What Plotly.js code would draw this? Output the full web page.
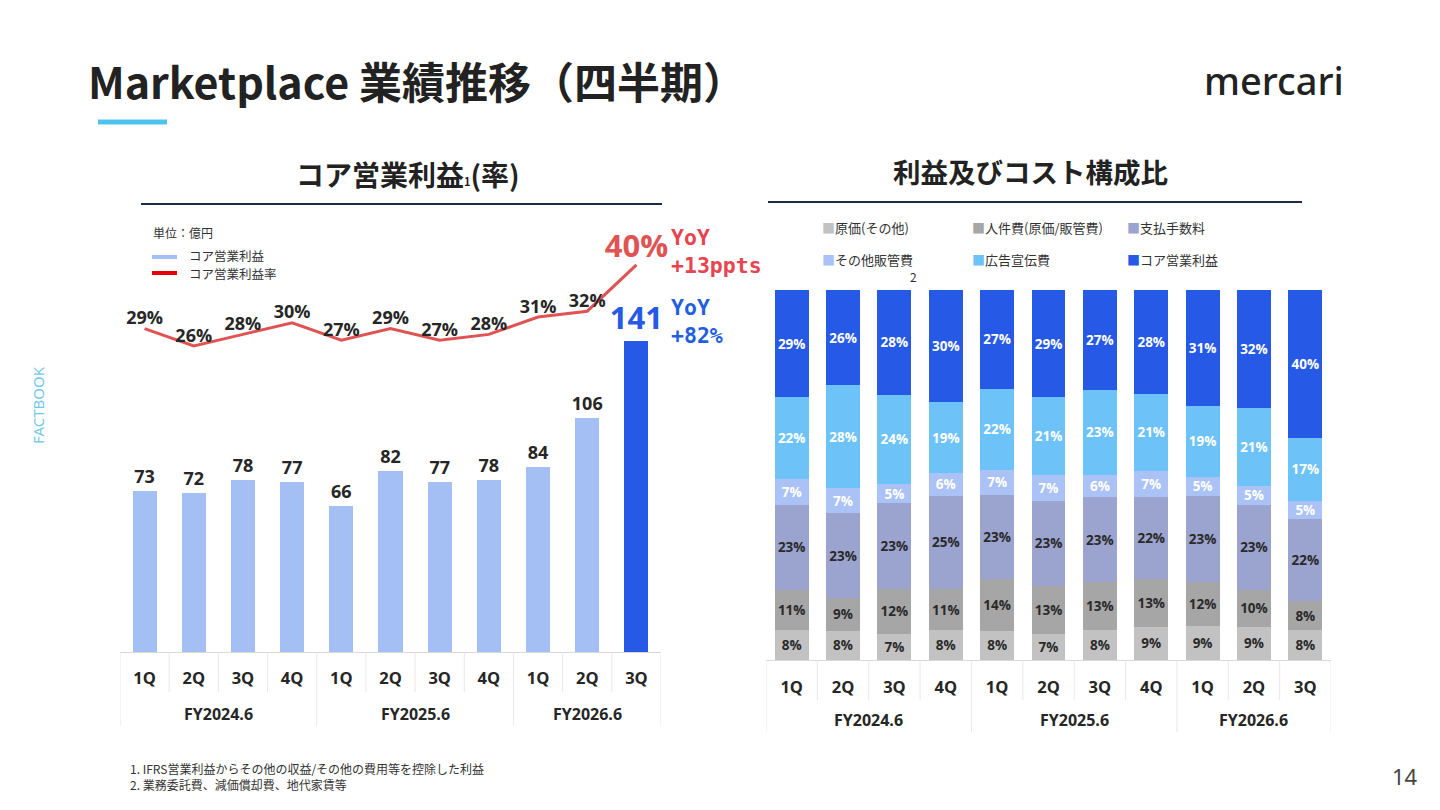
<!DOCTYPE html>
<html>
<head>
<meta charset="utf-8">
<script src="https://cdn.plot.ly/plotly-3.0.1.min.js"></script>
<style>
html,body{margin:0;padding:0;background:#fff;}
#chart{width:1440px;height:810px;}
</style>
</head>
<body>
<div id="chart"></div>
<script>
// ---- data ----
const quarters = ['1Q','2Q','3Q','4Q','1Q','2Q','3Q','4Q','1Q','2Q','3Q'];
const fiscalYears = ['FY2024.6','FY2024.6','FY2024.6','FY2024.6','FY2025.6','FY2025.6','FY2025.6','FY2025.6','FY2026.6','FY2026.6','FY2026.6'];
const coreProfit = [73, 72, 78, 77, 66, 82, 77, 78, 84, 106, 141];   // 億円
const coreMargin = [29, 26, 28, 30, 27, 29, 27, 28, 31, 32, 40];     // %

const seriesNames = ['原価(その他)', '人件費(原価/販管費)', '支払手数料', 'その他販管費', '広告宣伝費', 'コア営業利益'];
const costOther   = [8, 8, 7, 8, 8, 7, 8, 9, 9, 9, 8];
const personnel   = [11, 9, 12, 11, 14, 13, 13, 13, 12, 10, 8];
const fees        = [23, 23, 23, 25, 23, 23, 23, 22, 23, 23, 22];
const otherSGA    = [7, 7, 5, 6, 7, 7, 6, 7, 5, 5, 5];
const advertising = [22, 28, 24, 19, 22, 21, 23, 21, 19, 21, 17];
const coreShare   = [29, 26, 28, 30, 27, 29, 27, 28, 31, 32, 40];

// ---- styling ----
const W = 1440, H = 810;
const px = x => x / W;
const py = y => 1 - y / H;
const CJK = '"Noto Sans CJK JP", "Noto Sans", sans-serif';
const NUM = '"Open Sans", "Noto Sans", sans-serif';
const barLight = '#a4bff4';
const blue = '#2559e6';
const red = '#e05353';
const stackColors = ['#c2c2c2', '#a6a6a6', '#9ba3cf', '#aac2f6', '#6dc3f7', '#2559e6'];
const stackText = ['#2a2a2a', '#2a2a2a', '#2a2a2a', '#ffffff', '#ffffff', '#ffffff'];

// unique category keys; shown with the quarter only, groups labelled separately
const keys = quarters.map((q, i) => fiscalYears[i] + '|' + q);
const n = quarters.length;
const lastIdx = n - 1;

// group spans derived from fiscalYears
const groups = [];
fiscalYears.forEach((fy, i) => {
  const g = groups[groups.length - 1];
  if (g && g.name === fy) g.last = i; else groups.push({name: fy, first: i, last: i});
});

const traces = [];

// left: core profit bars
traces.push({
  type: 'bar', x: keys, y: coreProfit, xaxis: 'x', yaxis: 'y',
  width: 0.49,
  marker: {color: coreProfit.map((v, i) => i === lastIdx ? blue : barLight)},
  text: coreProfit.map(String), textposition: 'outside', constraintext: 'none', cliponaxis: false,
  textfont: {
    family: NUM,
    size: coreProfit.map((v, i) => i === lastIdx ? 31 : 18),
    color: coreProfit.map((v, i) => i === lastIdx ? blue : '#262626'),
    weight: 700
  },
  hoverinfo: 'skip', showlegend: false
});

// left: margin line
traces.push({
  type: 'scatter', mode: 'lines+text', x: keys, y: coreMargin, xaxis: 'x', yaxis: 'y3',
  line: {color: red, width: 3},
  text: coreMargin.map(v => v + '%'), textposition: 'top center', cliponaxis: false,
  textfont: {
    family: NUM,
    size: coreMargin.map((v, i) => i === lastIdx ? 31 : 18),
    color: coreMargin.map((v, i) => i === lastIdx ? red : '#262626'),
    weight: 700
  },
  hoverinfo: 'skip', showlegend: false
});

// right: cost structure (normalised to 100 per quarter)
const stack = [costOther, personnel, fees, otherSGA, advertising, coreShare];
const colSum = quarters.map((q, i) => stack.reduce((s, arr) => s + arr[i], 0));
stack.forEach((arr, k) => {
  traces.push({
    type: 'bar', name: seriesNames[k], x: keys, y: arr.map((v, i) => v / colSum[i] * 100),
    xaxis: 'x2', yaxis: 'y2', width: 0.66,
    marker: {color: stackColors[k]},
    text: arr.map(v => v + '%'), textposition: 'inside', insidetextanchor: 'middle',
    textangle: 0, constraintext: 'none',
    textfont: {family: NUM, size: 13.5, color: stackText[k], weight: 700},
    hoverinfo: 'skip', showlegend: false
  });
});

// ---- decorations ----
const ann = [];
const A = (o) => ann.push(Object.assign({xref: 'paper', yref: 'paper', showarrow: false}, o));

A({x: px(86), y: py(80), xanchor: 'left', yanchor: 'middle',
   text: 'Marketplace 業績推移（四半期）', font: {family: CJK, size: 43, color: '#222', weight: 700}});
A({x: px(1346), y: py(80), xanchor: 'right', yanchor: 'middle',
   text: 'mercari', font: {family: '"Noto Sans", sans-serif', size: 38, color: '#222', weight: 500}});
A({x: px(408), y: py(174), xanchor: 'center', yanchor: 'middle',
   text: 'コア営業利益<span style="font-size:11px">1</span>(率)', font: {family: CJK, size: 28, color: '#222', weight: 700}});
A({x: px(1030), y: py(171), xanchor: 'center', yanchor: 'middle',
   text: '利益及びコスト構成比', font: {family: CJK, size: 27.5, color: '#222', weight: 700}});

A({x: px(151), y: py(232), xanchor: 'left', yanchor: 'middle',
   text: '単位：億円', font: {family: CJK, size: 12, color: '#333'}});
A({x: px(187), y: py(256), xanchor: 'left', yanchor: 'middle',
   text: 'コア営業利益', font: {family: CJK, size: 12.5, color: '#333'}});
A({x: px(187), y: py(273), xanchor: 'left', yanchor: 'middle',
   text: 'コア営業利益率', font: {family: CJK, size: 12.5, color: '#333'}});

A({x: px(669), y: py(251), xanchor: 'left', yanchor: 'middle', align: 'left',
   text: 'YoY<br>+13ppts', font: {family: '"DejaVu Sans Mono", monospace', size: 21.5, color: '#e8434f', weight: 700}});
A({x: px(669), y: py(322), xanchor: 'left', yanchor: 'middle', align: 'left',
   text: 'YoY<br>+82%', font: {family: '"DejaVu Sans Mono", monospace', size: 21.5, color: '#1f5fe0', weight: 700}});

// right legend
const legPos = [[820, 228], [970, 228], [1125, 228], [820, 259], [970, 259], [1125, 259]];
seriesNames.forEach((name, k) => {
  A({x: px(legPos[k][0]), y: py(legPos[k][1]), xanchor: 'left', yanchor: 'middle',
     text: '<span style="color:' + stackColors[k] + '">■</span>' + name,
     font: {family: CJK, size: 13, color: '#333'}});
});
A({x: px(913), y: py(277), xanchor: 'center', yanchor: 'middle',
   text: '2', font: {family: CJK, size: 12, color: '#333'}});

A({x: px(128), y: py(776), xanchor: 'left', yanchor: 'middle', align: 'left',
   text: '1. IFRS営業利益からその他の収益/その他の費用等を控除した利益<br>2. 業務委託費、減価償却費、地代家賃等',
   font: {family: CJK, size: 12, color: '#333'}});
A({x: px(1420), y: py(776), xanchor: 'right', yanchor: 'middle',
   text: '14', font: {family: '"Noto Sans", sans-serif', size: 22, color: '#444'}});
A({x: px(38), y: py(405), xanchor: 'center', yanchor: 'middle', textangle: -90,
   text: 'FACTBOOK', font: {family: '"Noto Sans", sans-serif', size: 15, color: '#72c8e6'}});

const shapes = [
  {type: 'rect', xref: 'paper', yref: 'paper', x0: px(98), x1: px(167), y0: py(124.5), y1: py(119.5),
   fillcolor: '#4ec3f0', line: {width: 0}},
  {type: 'line', xref: 'paper', yref: 'paper', x0: px(141), x1: px(662), y0: py(204), y1: py(204),
   line: {color: '#1e2a4a', width: 2}},
  {type: 'line', xref: 'paper', yref: 'paper', x0: px(768), x1: px(1302), y0: py(202), y1: py(202),
   line: {color: '#1e2a4a', width: 2}},
  {type: 'line', xref: 'paper', yref: 'paper', x0: px(152), x1: px(177), y0: py(257), y1: py(257),
   line: {color: barLight, width: 4}},
  {type: 'line', xref: 'paper', yref: 'paper', x0: px(152), x1: px(177), y0: py(273), y1: py(273),
   line: {color: '#e8000b', width: 4}}
];

// category axis table: quarter labels, group labels and dividers
function addAxisTable(xref, axisY, qEnd, groupY, groupEnd) {
  // inner dividers between quarters
  for (let i = 0; i <= n; i++) {
    const b = i - 0.5;
    const isGroupEdge = groups.some(g => g.first - 0.5 === b) || b === n - 0.5;
    shapes.push({type: 'line', xref: xref, yref: 'paper', x0: b, x1: b,
      y0: py(axisY), y1: py(isGroupEdge ? groupEnd : qEnd),
      line: {color: '#e8e8e8', width: 1}});
  }
  groups.forEach(g => {
    A({xref: xref, x: (g.first + g.last) / 2, y: py(groupY), xanchor: 'center', yanchor: 'middle',
       text: g.name, font: {family: NUM, size: 16, color: '#262626', weight: 700}});
  });
}

const catAxis = (domain, anchor) => ({
  type: 'category', domain: domain, anchor: anchor, showline: true, linecolor: '#d9d9d9', linewidth: 1,
  showgrid: false, zeroline: false, ticks: '', tickmode: 'array', tickvals: keys, ticktext: quarters,
  ticklabelstandoff: 11, range: [-0.5, n - 0.5],
  tickfont: {family: NUM, size: 16.5, color: '#262626', weight: 700}, fixedrange: true
});

// left plot pixel geometry
const L = {left: 120, right: 661, top: 220, bottom: 652};
const pxPerUnit = 2.206, pxPerPct = 5.8, pctRef = 26, pctRefY = 346;
const leftRange = [0, (L.bottom - L.top) / pxPerUnit];
const y3Range = [pctRef - (L.bottom - pctRefY) / pxPerPct, pctRef + (pctRefY - L.top) / pxPerPct];

const R = {left: 766, right: 1331, top: 290, bottom: 660};

addAxisTable('x', L.bottom, 692, 714, 726);
addAxisTable('x2', R.bottom, 700, 720, 732);

const layout = {
  width: W, height: H, margin: {l: 0, r: 0, t: 0, b: 0},
  paper_bgcolor: '#fff', plot_bgcolor: 'rgba(0,0,0,0)',
  barmode: 'stack', showlegend: false,
  xaxis: catAxis([px(L.left), px(L.right)], 'y'),
  yaxis: {domain: [py(L.bottom), py(L.top)], range: leftRange, visible: false, fixedrange: true},
  yaxis3: {overlaying: 'y', anchor: 'x', range: y3Range, visible: false, fixedrange: true},
  xaxis2: Object.assign(catAxis([px(R.left), px(R.right)], 'y2'), {ticklabelstandoff: 12}),
  yaxis2: {domain: [py(R.bottom), py(R.top)], range: [0, 100], visible: false, fixedrange: true, anchor: 'x2'},
  annotations: ann, shapes: shapes
};

Plotly.newPlot('chart', traces, layout, {staticPlot: true, displayModeBar: false});
</script>
</body>
</html>
